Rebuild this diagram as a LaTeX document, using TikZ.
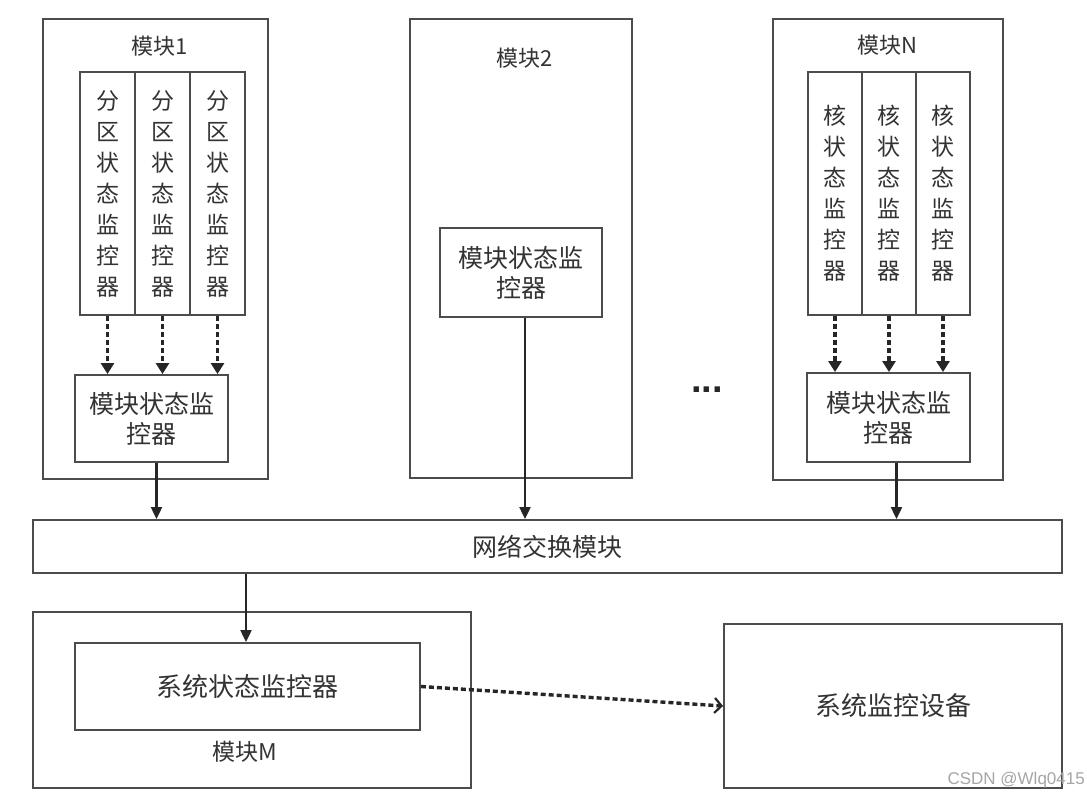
\documentclass[tikz,border=0pt]{standalone}
\usepackage{fontspec}
\setmainfont{Noto Sans CJK SC}
\newfontfamily\wmfont{Liberation Sans}
\usetikzlibrary{arrows.meta,calc}
\begin{document}
\begin{tikzpicture}[x=1pt,y=-1pt,
  box/.style={draw=black!70, line width=1.9pt, inner sep=0pt, text=black!80},
  colbox/.style={box, minimum width=#1, minimum height=243pt, align=center,
    font=\fontsize{23}{31}\selectfont},
  colbox/.default=55pt,
  ttl/.style={text=black!80, font=\fontsize{22}{26}\selectfont, inner sep=0pt},
  msm/.style={box, align=center, font=\fontsize{25}{30}\selectfont},
  solidarrow/.style={draw=black!85, line width=2.2pt, -{Triangle[length=12pt,width=11pt]}},
  dasharrow/.style={draw=black!85, line width=3.4pt, dash pattern=on 5pt off 3pt,
    -{Triangle[length=11pt,width=13pt]}},
  openarrow/.style={draw=black!85, line width=3.4pt, dash pattern=on 5pt off 3pt,
    -{Straight Barb[length=7pt,width=15pt,line width=2.2pt]}}
]
\useasboundingbox[fill=white] (0,0) rectangle (1087,799);

% module 1
\node[box, minimum width=225pt, minimum height=460pt] (m1) at (155.5,249) {};
\node[ttl] (m1t) at (160,46) {模块1};
\node[colbox] (c11) at (107.5,193.5) {分\\区\\状\\态\\监\\控\\器};
\node[colbox] (c12) at (162.5,193.5) {分\\区\\状\\态\\监\\控\\器};
\node[colbox] (c13) at (217.5,193.5) {分\\区\\状\\态\\监\\控\\器};
\node[msm, minimum width=153pt, minimum height=87pt] (b1) at (151.5,418.5) {模块状态监\\控器};

% module 2
\node[box, minimum width=222pt, minimum height=459pt] (m2) at (521,248.5) {};
\node[ttl] (m2t) at (525,58) {模块2};
\node[msm, minimum width=162pt, minimum height=89pt] (b2) at (521,272.5) {模块状态监\\控器};

% module N
\node[box, minimum width=230pt, minimum height=461pt] (mN) at (888,249.5) {};
\node[ttl] (mNt) at (887,45) {模块N};
\node[colbox=54pt] (cN1) at (835,193.5) {核\\状\\态\\监\\控\\器};
\node[colbox=54pt] (cN2) at (889,193.5) {核\\状\\态\\监\\控\\器};
\node[colbox=54pt] (cN3) at (943,193.5) {核\\状\\态\\监\\控\\器};
\node[msm, minimum width=163pt, minimum height=89pt] (bN) at (888.5,417.5) {模块状态监\\控器};

% dots
\node[text=black!85, font=\wmfont\bfseries\fontsize{38}{38}\selectfont, inner sep=0pt, anchor=base] (dots) at (707,393) {...};

% network
\node[box, minimum width=1029pt, minimum height=53pt, font=\fontsize{25}{30}\selectfont] (net) at (547.5,546.5) {网络交换模块};

% module M
\node[box, minimum width=438pt, minimum height=176pt] (mM) at (252,700) {};
\node[ttl, font=\fontsize{23}{26}\selectfont] (mMt) at (245,752) {模块M};
\node[box, minimum width=345pt, minimum height=87pt, font=\fontsize{26}{30}\selectfont] (s) at (247.5,686.5) {系统状态监控器};

% device
\node[box, minimum width=338pt, minimum height=164pt, font=\fontsize{26}{30}\selectfont] (dev) at (893,706) {系统监控设备};

% watermark
\node[text=black!35, font=\wmfont\fontsize{17}{20}\selectfont, anchor=east, inner sep=0pt] (wm) at (1085,780) {CSDN @Wlq0415};

% dashed arrows inside modules
\foreach \c in {c11,c12,c13} \draw[dasharrow] (\c.south) -- (\c.south |- b1.north);
\foreach \c in {cN1,cN2,cN3} \draw[dasharrow] (\c.south) -- (\c.south |- bN.north);

% solid arrows to network
\draw[solidarrow] ([xshift=5pt]b1.south) -- ([xshift=5pt]b1.south |- net.north);
\draw[solidarrow] ([xshift=4pt]b2.south) -- ([xshift=4pt]b2.south |- net.north);
\draw[solidarrow] ([xshift=8pt]bN.south) -- ([xshift=8pt]bN.south |- net.north);

% network to system monitor
\draw[solidarrow] ([xshift=-1.5pt]s.north |- net.south) -- ([xshift=-1.5pt]s.north);

% system monitor to device
\draw[openarrow] (s.east) -- (dev.west);
\end{tikzpicture}
\end{document}
